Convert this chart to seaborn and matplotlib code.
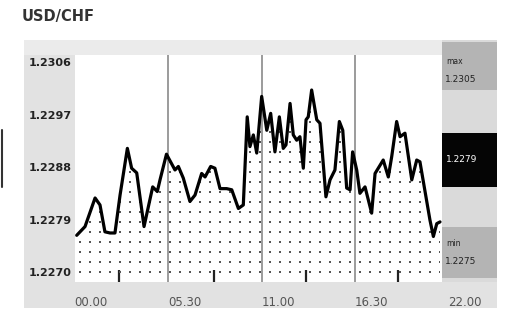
import numpy as np
import pandas as pd
import matplotlib
matplotlib.use("Agg")
import matplotlib.pyplot as plt
from matplotlib.patches import Rectangle
from matplotlib.lines import Line2D
import seaborn as sns

# ---------------- data ----------------
title = "USD/CHF"
hours = [0.13, 0.62, 1.21, 1.50, 1.79, 2.09, 2.38, 2.68, 3.11, 3.36, 3.66, 4.09,
         4.60, 4.87, 5.03, 5.41, 5.91, 6.11, 6.40, 6.79, 7.09, 7.48, 7.68, 8.01,
         8.26, 8.56, 8.95, 9.25, 9.64, 9.93, 10.16, 10.32, 10.52, 10.72, 11.01,
         11.31, 11.54, 11.79, 12.05, 12.28, 12.44, 12.68, 12.87, 13.07, 13.26,
         13.46, 13.62, 13.75, 13.95, 14.25, 14.44, 14.79, 15.03, 15.32, 15.58,
         15.78, 16.01, 16.21, 16.36, 16.60, 16.79, 17.09, 17.48, 17.68, 18.16,
         18.46, 18.66, 18.95, 19.15, 19.44, 19.84, 20.13, 20.32, 20.91, 21.11,
         21.31, 21.50]
prices = [1.22763, 1.22778, 1.22827, 1.22815, 1.22769, 1.22767, 1.22767, 1.22832,
          1.22912, 1.22878, 1.22870, 1.22778, 1.22846, 1.22838, 1.22858, 1.22902,
          1.22875, 1.22881, 1.22861, 1.22821, 1.22832, 1.22869, 1.22863, 1.22881,
          1.22878, 1.22843, 1.22843, 1.22841, 1.22809, 1.22815, 1.22966, 1.22915,
          1.22935, 1.22904, 1.23001, 1.22943, 1.22972, 1.22906, 1.22966, 1.22912,
          1.22918, 1.22989, 1.22935, 1.22926, 1.22932, 1.22878, 1.22961, 1.22966,
          1.23012, 1.22961, 1.22955, 1.22829, 1.22858, 1.22875, 1.22958, 1.22943,
          1.22844, 1.22841, 1.22906, 1.22875, 1.22835, 1.22846, 1.22801, 1.22869,
          1.22892, 1.22863, 1.22898, 1.22958, 1.22932, 1.22938, 1.22858, 1.22892,
          1.22889, 1.22789, 1.22761, 1.22783, 1.22786]
tick_hours = [0, 5.5, 11, 16.5, 22]
tick_labels = ["00.00", "05.30", "11.00", "16.30", "22.00"]
minor_hours = [2.6, 8.2, 13.6, 19.05]
price_ticks = [1.2270, 1.2279, 1.2288, 1.2297, 1.2306]
max_label = "1.2305"
min_label = "1.2275"
last_label = "1.2279"

# ---------------- style / layout ----------------
W, H = 514, 311
sns.set_theme(style="white")
plt.rcParams["font.family"] = ["DejaVu Sans"]

fig = plt.figure(figsize=(W / 100, H / 100), dpi=100)


def fx(px):
    return px / W


def fy(py):
    return 1 - py / H


def frect(x0, y0, x1, y1, color, z):
    fig.add_artist(Rectangle((fx(x0), fy(y1)), fx(x1) - fx(x0), fy(y0) - fy(y1),
                             transform=fig.transFigure, facecolor=color,
                             edgecolor="none", zorder=z))


# panel background
frect(24, 40, 497, 308, "#e2e2e2", -2)
frect(24, 40, 442, 55, "#ebebeb", -1)

ymin, ymax = 1.22683, 1.23072
ax = fig.add_axes([fx(74.5), fy(282), fx(448.5) - fx(74.5), fy(55) - fy(282)])
ax.set_facecolor("white")
for s in ax.spines.values():
    s.set_visible(False)

# dotted texture under the line
fb = ax.fill_between(hours, prices, ymin, color="none", lw=0)
dot_dx = 10 / 17.0
dot_dy = 0.0009 / 5.25
gx = np.arange(0.32, 22, dot_dx)
gy = np.arange(price_ticks[0], ymax, dot_dy)
GX, GY = np.meshgrid(gx, gy)
sc = ax.scatter(GX.ravel(), GY.ravel(), marker="s", s=4, color="#555555",
                linewidths=0, zorder=2)
sc.set_clip_path(fb.get_paths()[0], ax.transData)

df = pd.DataFrame({"hour": hours, "price": prices})
sns.lineplot(data=df, x="hour", y="price", ax=ax, color="black", lw=2.3,
             estimator=None, sort=False, zorder=4)

ax.set_xlim(0, 22)
ax.set_ylim(ymin, ymax)
ax.set_xlabel("")
ax.set_ylabel("")

ax.set_xticks(tick_hours)
ax.set_xticklabels(tick_labels, ha="left")
ax.set_xticks(minor_hours, minor=True)
ax.tick_params(axis="x", which="major", length=0, pad=10, labelsize=8.5,
               labelcolor="#555555")
ax.tick_params(axis="x", which="minor", bottom=True, direction="in", length=9,
               width=1.6, color="#222222")
ax.set_yticks(price_ticks)
ax.set_yticklabels([f"{v:.4f}" for v in price_ticks], fontweight="bold")
ax.tick_params(axis="y", length=0, pad=2, labelsize=8, labelcolor="#222222")

ax.grid(axis="x", which="major", color="#8a8a8a", lw=1.2)
ax.grid(axis="y", visible=False)
gls = ax.get_xgridlines()
gls[0].set_visible(False)
gls[-1].set_visible(False)

# right info column
frect(442, 40, 497, 282, "#dadada", 3)
frect(442, 42, 497, 90, "#b4b4b4", 3.1)
frect(442, 133, 497, 187, "#050505", 3.1)
frect(442, 227, 497, 278, "#b4b4b4", 3.1)
fig.text(fx(446), fy(62), "max", fontsize=5.5, color="#222222", va="center", zorder=5)
fig.text(fx(445), fy(79), max_label, fontsize=6.5, color="#222222", va="center", zorder=5)
fig.text(fx(446), fy(160), last_label, fontsize=6.5, color="white", va="center", zorder=5)
fig.text(fx(446), fy(243), "min", fontsize=5.5, color="#222222", va="center", zorder=5)
fig.text(fx(445), fy(262), min_label, fontsize=6.5, color="#222222", va="center", zorder=5)

# title
fig.text(fx(22), fy(17), title, fontsize=10.5, fontweight="bold", color="#333333",
         va="center", ha="left")

# small left edge mark
fig.add_artist(Line2D([fx(1.5), fx(1.5)], [fy(187), fy(130)], color="#333333",
                      lw=1.5, transform=fig.transFigure))

fig.savefig("out.png", dpi=100)
